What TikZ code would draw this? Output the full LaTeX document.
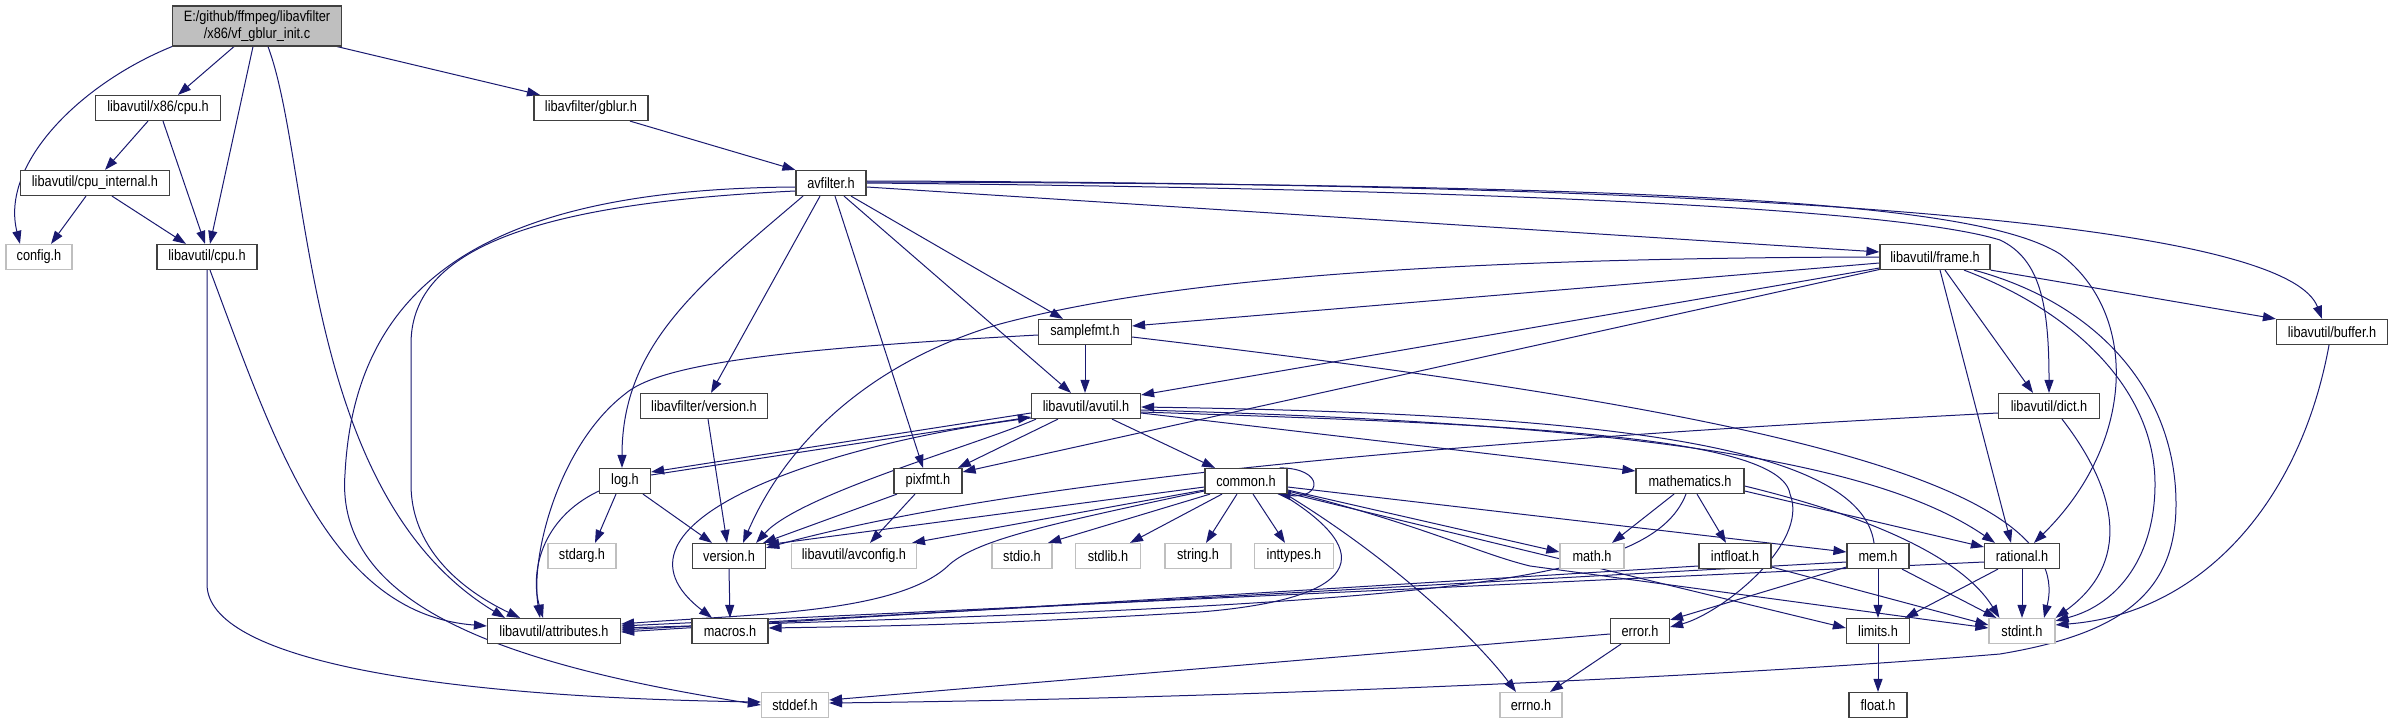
\documentclass[tikz,border=0pt]{standalone}
\usepackage{fontspec}
\setmainfont{Liberation Sans}[FakeStretch=0.85]
\usepackage{tikz}
\usetikzlibrary{arrows.meta,backgrounds}
\definecolor{incblue}{HTML}{191970}
\definecolor{hdrline}{HTML}{404040}
\definecolor{sysline}{HTML}{BFBFBF}

\begin{document}
\begin{tikzpicture}[x=1pt, y=1pt, >={Triangle[length=13pt, width=9pt]},
  hdr/.style={draw=hdrline, fill=white, line width=1.2pt, minimum height=25pt,
    inner sep=0pt, font=\fontsize{15pt}{17pt}\selectfont},
  sys/.style={hdr, draw=sysline},
  srcbox/.style={hdr, fill=sysline, minimum height=40pt, align=center},
  inc/.style={->, draw=incblue, line width=1pt}]
  \useasboundingbox (0,0) rectangle (2392,724);

  % headers
  \node[srcbox, minimum width=169pt] (main) at (257,698) {E:/github/ffmpeg/libavfilter\\/x86/vf\_gblur\_init.c};
  \node[hdr, minimum width=125pt] (x86cpu) at (158,616) {libavutil/x86/cpu.h};
  \node[hdr, minimum width=114pt] (gblur) at (591,616) {libavfilter/gblur.h};
  \node[hdr, minimum width=149pt] (cpuint) at (95,541) {libavutil/cpu\_internal.h};
  \node[hdr, minimum width=70pt] (avfilter) at (831,541) {avfilter.h};
  \node[sys, minimum width=66pt] (config) at (39,467) {config.h};
  \node[hdr, minimum width=100pt] (cpu) at (207,467) {libavutil/cpu.h};
  \node[hdr, minimum width=110pt] (frame) at (1935,467) {libavutil/frame.h};
  \node[hdr, minimum width=93pt] (samplefmt) at (1085,392) {samplefmt.h};
  \node[hdr, minimum width=111pt] (buffer) at (2332,392) {libavutil/buffer.h};
  \node[hdr, minimum width=127pt] (lavfver) at (704,318) {libavfilter/version.h};
  \node[hdr, minimum width=109pt] (avutil) at (1086,318) {libavutil/avutil.h};
  \node[hdr, minimum width=101pt] (dict) at (2049,318) {libavutil/dict.h};
  \node[hdr, minimum width=51pt] (log) at (625,243) {log.h};
  \node[hdr, minimum width=68pt] (pixfmt) at (928,243) {pixfmt.h};
  \node[hdr, minimum width=82pt] (common) at (1246,243) {common.h};
  \node[hdr, minimum width=108pt] (mathematics) at (1690,243) {mathematics.h};
  \node[sys, minimum width=68pt] (stdarg) at (582,168) {stdarg.h};
  \node[hdr, minimum width=73pt] (version) at (729,168) {version.h};
  \node[sys, minimum width=125pt] (avconfig) at (854,168) {libavutil/avconfig.h};
  \node[sys, minimum width=60pt] (stdio) at (1022,168) {stdio.h};
  \node[sys, minimum width=65pt] (stdlib) at (1108,168) {stdlib.h};
  \node[sys, minimum width=66pt] (string) at (1198,168) {string.h};
  \node[sys, minimum width=79pt] (inttypes) at (1294,168) {inttypes.h};
  \node[sys, minimum width=64pt] (math) at (1592,168) {math.h};
  \node[hdr, minimum width=72pt] (intfloat) at (1735,168) {intfloat.h};
  \node[hdr, minimum width=62pt] (mem) at (1878,168) {mem.h};
  \node[hdr, minimum width=75pt] (rational) at (2022,168) {rational.h};
  \node[hdr, minimum width=133pt] (attributes) at (554,93) {libavutil/attributes.h};
  \node[hdr, minimum width=76pt] (macros) at (730,93) {macros.h};
  \node[hdr, minimum width=59pt] (error) at (1640,93) {error.h};
  \node[hdr, minimum width=63pt] (limits) at (1878,93) {limits.h};
  \node[sys, minimum width=66pt] (stdint) at (2022,93) {stdint.h};
  \node[sys, minimum width=67pt] (stddef) at (795,19) {stddef.h};
  \node[sys, minimum width=62pt] (errno) at (1531,19) {errno.h};
  \node[hdr, minimum width=58pt] (float) at (1878,19) {float.h};

  \begin{scope}[on background layer]
  % includes of the source file
  \draw[inc] (main.south west) .. controls (80,640) and (0,560) .. ([xshift=-19pt]config.north);
  \draw[inc] ([xshift=-23pt]main.south) -- ([xshift=20pt]x86cpu.north);
  \draw[inc] ([xshift=-4pt]main.south) -- ([xshift=3pt]cpu.north);
  \draw[inc] ([xshift=11pt]main.south) .. controls (312,560) and (300,230) .. ([xshift=-49pt]attributes.north);
  \draw[inc] ([xshift=-5pt]main.south east) -- ([xshift=-51pt]gblur.north);

  % cpu headers
  \draw[inc] ([xshift=-10pt]x86cpu.south) -- ([xshift=10pt]cpuint.north);
  \draw[inc] ([xshift=5pt]x86cpu.south) -- ([xshift=-2pt]cpu.north);
  \draw[inc] ([xshift=-9pt]cpuint.south) -- ([xshift=12pt]config.north);
  \draw[inc] ([xshift=17pt]cpuint.south) -- ([xshift=-21pt]cpu.north);
  \draw[inc] ([xshift=3pt]cpu.south) .. controls (275,280) and (330,110) .. ([yshift=5pt]attributes.west);
  \draw[inc] (cpu.south) -- ++(0,-314) .. controls +(0,-75) and +(-330,5) .. ([yshift=3pt]stddef.west);

  % avfilter.h
  \draw[inc] ([xshift=39pt]gblur.south) -- (avfilter.north west);
  \draw[inc] ([yshift=-8pt]avfilter.west) .. controls (520,520) and (411,470) .. (411,380)
    -- (411,240) .. controls (411,170) and (470,130) .. ([xshift=-34pt]attributes.north);
  \draw[inc] ([yshift=-4pt]avfilter.west) .. controls (500,535) and (355,450) .. (345,250)
    .. controls (335,120) and (500,60) .. (stddef.west);
  \draw[inc] ([xshift=-28pt]avfilter.south) .. controls (700,440) and (622,380) .. ([xshift=-3pt]log.north);
  \draw[inc] ([xshift=-11pt]avfilter.south) -- ([xshift=7pt]lavfver.north);
  \draw[inc] ([xshift=4pt]avfilter.south) -- ([xshift=-5pt]pixfmt.north);
  \draw[inc] ([xshift=13pt]avfilter.south) -- ([xshift=-15pt]avutil.north);
  \draw[inc] ([xshift=20pt]avfilter.south) -- ([xshift=-22pt]samplefmt.north);
  \draw[inc] ([yshift=-4pt]avfilter.east) -- ([yshift=5pt]frame.west);
  \draw[inc] (avfilter.east) .. controls (1500,535) and (1900,515) .. (2000,484)
    .. controls (2040,465) and (2049,420) .. (dict.north);
  \draw[inc] ([yshift=1pt]avfilter.east) .. controls (1700,540) and (1980,520) .. (2060,470)
    .. controls (2140,410) and (2135,280) .. ([xshift=12pt]rational.north);
  \draw[inc] ([yshift=2pt]avfilter.east) .. controls (1900,540) and (2290,490) .. ([xshift=-10pt]buffer.north);

  % samplefmt.h, frame.h, buffer.h, dict.h
  \draw[inc] (samplefmt.south) -- ([xshift=-1pt]avutil.north);
  \draw[inc] ([yshift=-3pt]samplefmt.west) .. controls (780,375) and (660,360) .. (625,330)
    .. controls (560,280) and (530,170) .. ([xshift=-14pt]attributes.north);
  \draw[inc] ([yshift=-5pt]samplefmt.east) .. controls (1700,320) and (2080,250) .. ([xshift=22pt]stdint.north);
  \draw[inc] (frame.west) .. controls (1400,466) and (1150,440) .. (1000,400)
    .. controls (880,365) and (790,290) .. ([xshift=14pt]version.north);
  \draw[inc] ([yshift=-6pt]frame.west) -- ([yshift=6pt]samplefmt.east);
  \draw[inc] ([yshift=-11pt]frame.west) -- ([yshift=11pt]avutil.east);
  \draw[inc] ([yshift=-12.5pt]frame.west) -- ([yshift=9pt]pixfmt.east);
  \draw[inc] ([xshift=5pt]frame.south) -- ([xshift=-11pt]rational.north);
  \draw[inc] ([xshift=10pt]frame.south) -- ([xshift=-16pt]dict.north);
  \draw[inc] ([xshift=29pt]frame.south) .. controls (2080,410) and (2155,330) .. (2155,240)
    .. controls (2155,170) and (2120,120) .. ([yshift=-3pt]stdint.north east);
  \draw[inc] ([xshift=39pt]frame.south) .. controls (2100,420) and (2176,330) .. (2176,220)
    .. controls (2176,130) and (2120,90) .. (2000,70)
    .. controls (1700,45) and (1200,25) .. ([yshift=2pt]stddef.east);
  \draw[inc] (frame.south east) -- (buffer.north west);
  \draw[inc] ([xshift=-3pt]buffer.south) .. controls (2300,220) and (2200,110) .. ([yshift=-7pt]stdint.north east);
  \draw[inc] ([yshift=-7pt]dict.west) .. controls (1400,280) and (1000,240) .. ([yshift=-5pt]version.north east);
  \draw[inc] ([xshift=13pt]dict.south) .. controls (2120,230) and (2130,160) .. (stdint.north east);

  % libavutil/avutil.h
  \draw[inc] ([xshift=26pt]avutil.south) -- ([xshift=-31pt]common.north);
  \draw[inc] ([xshift=-28pt]avutil.south) -- ([xshift=30pt]pixfmt.north);
  \draw[inc] ([yshift=-7pt]avutil.west) -- ([yshift=9pt]log.east);
  \draw[inc] ([yshift=6pt]log.east) -- ([yshift=-11pt]avutil.west);
  \draw[inc] ([xshift=-50pt]avutil.south) .. controls (980,280) and (800,230) .. ([xshift=-10pt]version.north east);
  \draw[inc] ([yshift=-12pt]avutil.west) .. controls (820,280) and (590,200) .. ([xshift=-18pt]macros.north);
  \draw[inc] ([yshift=-7pt]avutil.east) -- ([yshift=10pt]mathematics.west);
  \draw[inc] ([yshift=-4pt]avutil.east) .. controls (1650,300) and (1880,260) .. ([xshift=-27pt]rational.north);
  \draw[inc] ([yshift=-6pt]avutil.east) .. controls (1500,300) and (1780,290) .. (1790,230)
    .. controls (1810,180) and (1720,110) .. ([yshift=4pt]error.east);
  \draw[inc] ([xshift=-4pt]mem.north) .. controls (1860,280) and (1600,310) .. ([yshift=-1pt]avutil.east);

  % log.h, pixfmt.h, version.h
  \draw[inc] ([xshift=4pt]lavfver.south) -- ([xshift=-2pt]version.north);
  \draw[inc] ([xshift=-9pt]log.south) -- ([xshift=13pt]stdarg.north);
  \draw[inc] ([xshift=18pt]log.south) -- ([xshift=-17pt]version.north);
  \draw[inc] ([yshift=-10pt]log.west) .. controls (540,205) and (530,150) .. ([xshift=-11pt]attributes.north);
  \draw[inc] ([xshift=-31pt]pixfmt.south) -- ([xshift=-3pt]version.north east);
  \draw[inc] ([xshift=-13pt]pixfmt.south) -- ([xshift=16pt]avconfig.north);
  \draw[inc] (version.south) -- (macros.north);

  % common.h
  \draw[inc] ([yshift=-6pt]common.west) -- ([yshift=-2pt]version.north east);
  \draw[inc] ([yshift=-9pt]common.west) -- ([xshift=58pt]avconfig.north);
  \draw[inc] ([xshift=-36pt]common.south) -- ([xshift=26pt]stdio.north);
  \draw[inc] ([xshift=-24pt]common.south) -- ([xshift=22pt]stdlib.north);
  \draw[inc] ([xshift=-9pt]common.south) -- ([xshift=8pt]string.north);
  \draw[inc] ([xshift=7pt]common.south) -- ([xshift=-9pt]inttypes.north);
  \draw[inc] ([yshift=-9pt]common.east) -- ([yshift=4pt]math.west);
  \draw[inc] ([yshift=-6pt]common.east) -- ([yshift=4pt]mem.west);
  \draw[inc] ([yshift=-12pt]common.east) -- ([yshift=3pt]limits.west);
  \draw[inc] ([yshift=-10pt]common.east) .. controls (1420,200) and (1480,170) .. (1530,158)
    -- ([yshift=3pt]stdint.west);
  \draw[inc] ([xshift=-2pt]common.south east) .. controls (1400,160) and (1480,80) .. ([xshift=-15pt]errno.north);
  \draw[inc] ([yshift=-10pt]common.west) .. controls (1050,200) and (980,185) .. (950,160)
    .. controls (900,110) and (750,110) .. ([yshift=7pt]attributes.east);
  \draw[inc] ([xshift=-6pt]common.south east) .. controls (1380,170) and (1360,125) .. (1200,112)
    .. controls (1000,100) and (900,98) .. ([yshift=3pt]macros.east);
  \draw[inc] ([xshift=-8pt]common.north east) .. controls +(45,0) and +(45,-5) .. ([xshift=-10pt]common.south east);

  % mathematics.h and below
  \draw[inc] ([xshift=-16pt]mathematics.south) -- ([xshift=20pt]math.north);
  \draw[inc] ([xshift=7pt]mathematics.south) -- ([xshift=-9pt]intfloat.north);
  \draw[inc] ([xshift=-4pt]mathematics.south) .. controls (1650,140) and (1450,120) .. ([yshift=3pt]attributes.east);
  \draw[inc] ([yshift=-10pt]mathematics.east) -- ([yshift=9pt]rational.west);
  \draw[inc] ([yshift=-5pt]mathematics.east) .. controls (1860,210) and (1960,170) .. ([xshift=11pt]stdint.north west);
  \draw[inc] ([yshift=-11pt]intfloat.east) -- ([yshift=6pt]stdint.west);
  \draw[inc] ([yshift=-10pt]intfloat.west) -- ([yshift=-1pt]attributes.east);
  \draw[inc] (mem.south) -- (limits.north);
  \draw[inc] ([xshift=24pt]mem.south) -- ([xshift=8pt]stdint.north west);
  \draw[inc] ([yshift=-6pt]mem.west) -- ([yshift=1pt]attributes.east);
  \draw[inc] ([yshift=-11pt]mem.west) -- ([yshift=-2pt]error.north east);
  \draw[inc] (rational.south) -- (stdint.north);
  \draw[inc] ([xshift=-24pt]rational.south) -- ([xshift=27pt]limits.north);
  \draw[inc] ([yshift=-6pt]rational.west) -- ([yshift=5pt]attributes.east);
  \draw[inc] ([xshift=-19pt]error.south) -- ([xshift=19pt]errno.north);
  \draw[inc] ([yshift=-3pt]error.west) -- ([yshift=5pt]stddef.east);
  \draw[inc] (limits.south) -- (float.north);
  \end{scope}
\end{tikzpicture}
\end{document}
